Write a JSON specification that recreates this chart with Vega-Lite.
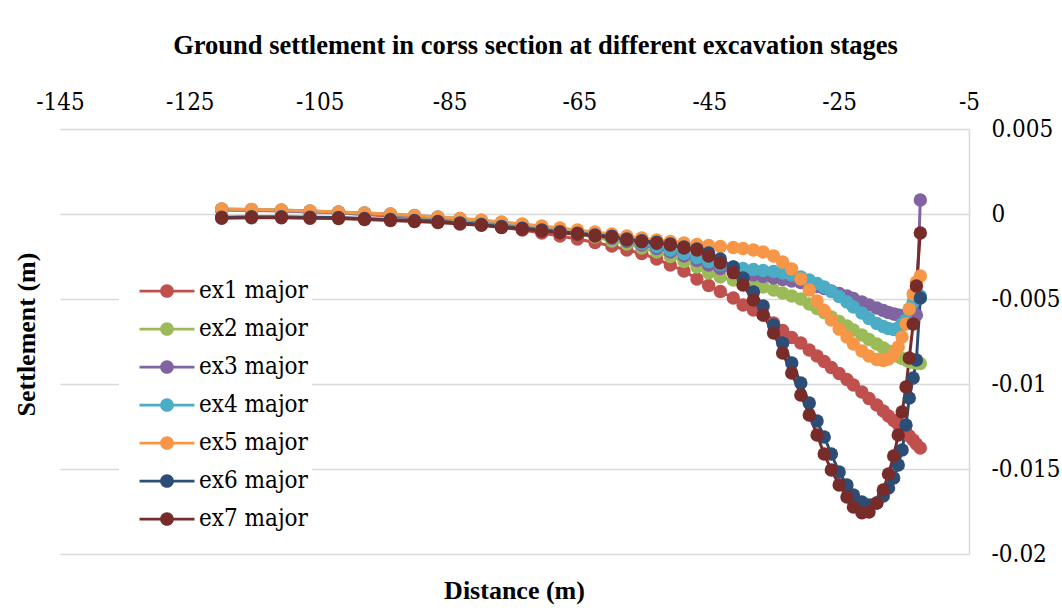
{
  "$schema": "https://vega.github.io/schema/vega-lite/v6.json",
  "width": 909,
  "height": 425,
  "autosize": {"type": "none"},
  "padding": {"left": 60, "top": 129, "right": 93, "bottom": 56},
  "background": "white",
  "title": {"text": "Ground settlement in corss section at different excavation stages", "font": "Liberation Serif", "fontSize": 26.5, "fontWeight": "bold", "color": "black", "anchor": "middle", "frame": "group", "dx": 21, "offset": 31},
  "data": {"values": [
    {"x": -120.1, "ex1 major": 0.00024, "ex2 major": 0.00026, "ex3 major": 0.00026, "ex4 major": 0.00029, "ex5 major": 0.00029, "ex6 major": -0.00019, "ex7 major": -0.00025},
    {"x": -115.5, "ex1 major": 0.00021, "ex2 major": 0.00024, "ex3 major": 0.00024, "ex4 major": 0.00026, "ex5 major": 0.00026, "ex6 major": -0.00016, "ex7 major": -0.00022},
    {"x": -110.9, "ex1 major": 0.00018, "ex2 major": 0.00021, "ex3 major": 0.00021, "ex4 major": 0.00024, "ex5 major": 0.00024, "ex6 major": -0.00016, "ex7 major": -0.00022},
    {"x": -106.5, "ex1 major": 0.00012, "ex2 major": 0.00015, "ex3 major": 0.00015, "ex4 major": 0.00018, "ex5 major": 0.00018, "ex6 major": -0.00019, "ex7 major": -0.00025},
    {"x": -102.1, "ex1 major": 0.00006, "ex2 major": 0.00009, "ex3 major": 0.00010, "ex4 major": 0.00012, "ex5 major": 0.00012, "ex6 major": -0.00021, "ex7 major": -0.00026},
    {"x": -98.1, "ex1 major": -0.00003, "ex2 major": 0.00003, "ex3 major": 0.00004, "ex4 major": 0.00006, "ex5 major": 0.00006, "ex6 major": -0.00026, "ex7 major": -0.00032},
    {"x": -94.1, "ex1 major": -0.00012, "ex2 major": -0.00006, "ex3 major": -0.00003, "ex4 major": 0.0, "ex5 major": 0.0, "ex6 major": -0.00032, "ex7 major": -0.00038},
    {"x": -90.4, "ex1 major": -0.00024, "ex2 major": -0.00015, "ex3 major": -0.00012, "ex4 major": -0.00009, "ex5 major": -0.00009, "ex6 major": -0.00038, "ex7 major": -0.00044},
    {"x": -86.8, "ex1 major": -0.00035, "ex2 major": -0.00024, "ex3 major": -0.00021, "ex4 major": -0.00018, "ex5 major": -0.00018, "ex6 major": -0.00044, "ex7 major": -0.00050},
    {"x": -83.4, "ex1 major": -0.00047, "ex2 major": -0.00035, "ex3 major": -0.00029, "ex4 major": -0.00026, "ex5 major": -0.00026, "ex6 major": -0.00053, "ex7 major": -0.00059},
    {"x": -80.1, "ex1 major": -0.00062, "ex2 major": -0.00047, "ex3 major": -0.00041, "ex4 major": -0.00038, "ex5 major": -0.00035, "ex6 major": -0.00061, "ex7 major": -0.00066},
    {"x": -77.0, "ex1 major": -0.00076, "ex2 major": -0.00059, "ex3 major": -0.00053, "ex4 major": -0.00050, "ex5 major": -0.00047, "ex6 major": -0.00074, "ex7 major": -0.00079},
    {"x": -73.8, "ex1 major": -0.00094, "ex2 major": -0.00074, "ex3 major": -0.00065, "ex4 major": -0.00062, "ex5 major": -0.00059, "ex6 major": -0.00084, "ex7 major": -0.00090},
    {"x": -70.8, "ex1 major": -0.00112, "ex2 major": -0.00088, "ex3 major": -0.00079, "ex4 major": -0.00076, "ex5 major": -0.00071, "ex6 major": -0.00094, "ex7 major": -0.00100},
    {"x": -68.0, "ex1 major": -0.00129, "ex2 major": -0.00103, "ex3 major": -0.00094, "ex4 major": -0.00091, "ex5 major": -0.00082, "ex6 major": -0.00104, "ex7 major": -0.00110},
    {"x": -65.3, "ex1 major": -0.00147, "ex2 major": -0.00118, "ex3 major": -0.00109, "ex4 major": -0.00106, "ex5 major": -0.00094, "ex6 major": -0.00113, "ex7 major": -0.00119},
    {"x": -62.6, "ex1 major": -0.00168, "ex2 major": -0.00135, "ex3 major": -0.00124, "ex4 major": -0.00121, "ex5 major": -0.00106, "ex6 major": -0.00124, "ex7 major": -0.00129},
    {"x": -60.0, "ex1 major": -0.00188, "ex2 major": -0.00159, "ex3 major": -0.00144, "ex4 major": -0.00138, "ex5 major": -0.00118, "ex6 major": -0.00131, "ex7 major": -0.00137},
    {"x": -57.7, "ex1 major": -0.00212, "ex2 major": -0.00176, "ex3 major": -0.00162, "ex4 major": -0.00156, "ex5 major": -0.00129, "ex6 major": -0.00147, "ex7 major": -0.00153},
    {"x": -55.4, "ex1 major": -0.00232, "ex2 major": -0.00200, "ex3 major": -0.00182, "ex4 major": -0.00174, "ex5 major": -0.00141, "ex6 major": -0.00157, "ex7 major": -0.00163},
    {"x": -53.1, "ex1 major": -0.00265, "ex2 major": -0.00224, "ex3 major": -0.00203, "ex4 major": -0.00191, "ex5 major": -0.00153, "ex6 major": -0.00166, "ex7 major": -0.00172},
    {"x": -51.0, "ex1 major": -0.00300, "ex2 major": -0.00250, "ex3 major": -0.00224, "ex4 major": -0.00212, "ex5 major": -0.00162, "ex6 major": -0.00176, "ex7 major": -0.00182},
    {"x": -48.9, "ex1 major": -0.00335, "ex2 major": -0.00279, "ex3 major": -0.00247, "ex4 major": -0.00232, "ex5 major": -0.00171, "ex6 major": -0.00194, "ex7 major": -0.00200},
    {"x": -46.9, "ex1 major": -0.00382, "ex2 major": -0.00312, "ex3 major": -0.00274, "ex4 major": -0.00256, "ex5 major": -0.00179, "ex6 major": -0.00206, "ex7 major": -0.00212},
    {"x": -45.1, "ex1 major": -0.00421, "ex2 major": -0.00347, "ex3 major": -0.00300, "ex4 major": -0.00279, "ex5 major": -0.00185, "ex6 major": -0.00229, "ex7 major": -0.00247},
    {"x": -43.3, "ex1 major": -0.00456, "ex2 major": -0.00371, "ex3 major": -0.00321, "ex4 major": -0.00297, "ex5 major": -0.00191, "ex6 major": -0.00265, "ex7 major": -0.00288},
    {"x": -41.3, "ex1 major": -0.00494, "ex2 major": -0.00388, "ex3 major": -0.00338, "ex4 major": -0.00312, "ex5 major": -0.00197, "ex6 major": -0.00312, "ex7 major": -0.00345},
    {"x": -39.8, "ex1 major": -0.00535, "ex2 major": -0.00403, "ex3 major": -0.00350, "ex4 major": -0.00321, "ex5 major": -0.00203, "ex6 major": -0.00376, "ex7 major": -0.00418},
    {"x": -38.2, "ex1 major": -0.00565, "ex2 major": -0.00415, "ex3 major": -0.00359, "ex4 major": -0.00326, "ex5 major": -0.00212, "ex6 major": -0.00459, "ex7 major": -0.00506},
    {"x": -36.7, "ex1 major": -0.00594, "ex2 major": -0.00429, "ex3 major": -0.00368, "ex4 major": -0.00332, "ex5 major": -0.00224, "ex6 major": -0.00541, "ex7 major": -0.00594},
    {"x": -35.1, "ex1 major": -0.00641, "ex2 major": -0.00447, "ex3 major": -0.00376, "ex4 major": -0.00338, "ex5 major": -0.00247, "ex6 major": -0.00653, "ex7 major": -0.00700},
    {"x": -33.7, "ex1 major": -0.00685, "ex2 major": -0.00465, "ex3 major": -0.00385, "ex4 major": -0.00347, "ex5 major": -0.00282, "ex6 major": -0.00759, "ex7 major": -0.00818},
    {"x": -32.3, "ex1 major": -0.00726, "ex2 major": -0.00482, "ex3 major": -0.00394, "ex4 major": -0.00359, "ex5 major": -0.00324, "ex6 major": -0.00876, "ex7 major": -0.00935},
    {"x": -30.9, "ex1 major": -0.00759, "ex2 major": -0.00500, "ex3 major": -0.00403, "ex4 major": -0.00371, "ex5 major": -0.00382, "ex6 major": -0.00994, "ex7 major": -0.01065},
    {"x": -29.6, "ex1 major": -0.00800, "ex2 major": -0.00529, "ex3 major": -0.00415, "ex4 major": -0.00388, "ex5 major": -0.00447, "ex6 major": -0.01112, "ex7 major": -0.01182},
    {"x": -28.4, "ex1 major": -0.00835, "ex2 major": -0.00556, "ex3 major": -0.00426, "ex4 major": -0.00409, "ex5 major": -0.00512, "ex6 major": -0.01218, "ex7 major": -0.01300},
    {"x": -27.3, "ex1 major": -0.00868, "ex2 major": -0.00579, "ex3 major": -0.00438, "ex4 major": -0.00429, "ex5 major": -0.00568, "ex6 major": -0.01312, "ex7 major": -0.01412},
    {"x": -26.2, "ex1 major": -0.00903, "ex2 major": -0.00606, "ex3 major": -0.00453, "ex4 major": -0.00456, "ex5 major": -0.00624, "ex6 major": -0.01412, "ex7 major": -0.01506},
    {"x": -25.0, "ex1 major": -0.00938, "ex2 major": -0.00632, "ex3 major": -0.00468, "ex4 major": -0.00485, "ex5 major": -0.00676, "ex6 major": -0.01518, "ex7 major": -0.01594},
    {"x": -23.8, "ex1 major": -0.00974, "ex2 major": -0.00659, "ex3 major": -0.00482, "ex4 major": -0.00518, "ex5 major": -0.00724, "ex6 major": -0.01594, "ex7 major": -0.01665},
    {"x": -22.8, "ex1 major": -0.01006, "ex2 major": -0.00682, "ex3 major": -0.00497, "ex4 major": -0.00547, "ex5 major": -0.00765, "ex6 major": -0.01653, "ex7 major": -0.01724},
    {"x": -21.5, "ex1 major": -0.01047, "ex2 major": -0.00712, "ex3 major": -0.00518, "ex4 major": -0.00582, "ex5 major": -0.00806, "ex6 major": -0.01694, "ex7 major": -0.01757},
    {"x": -20.4, "ex1 major": -0.01085, "ex2 major": -0.00738, "ex3 major": -0.00535, "ex4 major": -0.00615, "ex5 major": -0.00835, "ex6 major": -0.01712, "ex7 major": -0.01753},
    {"x": -19.2, "ex1 major": -0.01124, "ex2 major": -0.00765, "ex3 major": -0.00553, "ex4 major": -0.00644, "ex5 major": -0.00856, "ex6 major": -0.01700, "ex7 major": -0.01700},
    {"x": -18.2, "ex1 major": -0.01159, "ex2 major": -0.00788, "ex3 major": -0.00568, "ex4 major": -0.00662, "ex5 major": -0.00862, "ex6 major": -0.01659, "ex7 major": -0.01624},
    {"x": -17.4, "ex1 major": -0.01188, "ex2 major": -0.00806, "ex3 major": -0.00579, "ex4 major": -0.00674, "ex5 major": -0.00853, "ex6 major": -0.01612, "ex7 major": -0.01529},
    {"x": -16.6, "ex1 major": -0.01215, "ex2 major": -0.00824, "ex3 major": -0.00588, "ex4 major": -0.00679, "ex5 major": -0.00826, "ex6 major": -0.01553, "ex7 major": -0.01424},
    {"x": -15.9, "ex1 major": -0.01238, "ex2 major": -0.00838, "ex3 major": -0.00594, "ex4 major": -0.00671, "ex5 major": -0.00782, "ex6 major": -0.01476, "ex7 major": -0.01300},
    {"x": -15.3, "ex1 major": -0.01262, "ex2 major": -0.00850, "ex3 major": -0.00599, "ex4 major": -0.00647, "ex5 major": -0.00724, "ex6 major": -0.01388, "ex7 major": -0.01165},
    {"x": -14.7, "ex1 major": -0.01285, "ex2 major": -0.00859, "ex3 major": -0.00602, "ex4 major": -0.00624, "ex5 major": -0.00647, "ex6 major": -0.01241, "ex7 major": -0.01018},
    {"x": -14.2, "ex1 major": -0.01306, "ex2 major": -0.00868, "ex3 major": -0.00603, "ex4 major": -0.00559, "ex5 major": -0.00559, "ex6 major": -0.01082, "ex7 major": -0.00847},
    {"x": -13.6, "ex1 major": -0.01329, "ex2 major": -0.00874, "ex3 major": -0.00603, "ex4 major": -0.00518, "ex5 major": -0.00471, "ex6 major": -0.00965, "ex7 major": -0.00647},
    {"x": -13.1, "ex1 major": -0.01353, "ex2 major": -0.00876, "ex3 major": -0.00594, "ex4 major": -0.00494, "ex5 major": -0.00400, "ex6 major": -0.00859, "ex7 major": -0.00424},
    {"x": -12.5, "ex1 major": -0.01376, "ex2 major": -0.00879, "ex3 major": 0.00082, "ex4 major": -0.00482, "ex5 major": -0.00365, "ex6 major": -0.00494, "ex7 major": -0.00112}
  ]},
  "transform": [
    {"fold": ["ex1 major", "ex2 major", "ex3 major", "ex4 major", "ex5 major", "ex6 major", "ex7 major"], "as": ["series", "y"]}
  ],
  "encoding": {
    "x": {
      "field": "x", "type": "quantitative",
      "scale": {"domain": [-145, -5], "nice": false, "zero": false},
      "axis": {
        "orient": "top",
        "values": [-145, -125, -105, -85, -65, -45, -25, -5],
        "labelExpr": "'' + datum.value",
        "grid": false, "ticks": false, "domain": false,
        "labelFont": "DejaVu Serif Condensed, DejaVu Serif", "labelFontSize": 24, "labelColor": "black",
        "labelPadding": 15, "labelOverlap": false, "labelFlush": false, "labelBound": false,
        "title": "Distance (m)",
        "titleFont": "Liberation Serif", "titleFontSize": 26, "titleFontWeight": "bold", "titleColor": "black",
        "titleX": 454, "titleY": 461, "titleAlign": "center", "titleBaseline": "middle"
      }
    },
    "y": {
      "field": "y", "type": "quantitative",
      "scale": {"domain": [-0.02, 0.005], "nice": false, "zero": false},
      "axis": {
        "orient": "right",
        "values": [0.005, 0, -0.005, -0.01, -0.015, -0.02],
        "labelExpr": "'' + datum.value",
        "grid": true, "gridColor": "#D9D9D9", "gridWidth": 1.5,
        "ticks": false, "domain": true, "domainColor": "#D9D9D9", "domainWidth": 1.5,
        "labelFont": "DejaVu Serif Condensed, DejaVu Serif", "labelFontSize": 24, "labelColor": "black",
        "labelPadding": 22, "labelBaseline": "middle", "labelAlign": "left",
        "title": "Settlement (m)",
        "titleFont": "Liberation Serif", "titleFontSize": 26, "titleFontWeight": "bold", "titleColor": "black",
        "titleAngle": 270, "titleX": -943, "titleY": 205, "titleAlign": "center", "titleBaseline": "middle"
      }
    },
    "color": {
      "field": "series", "type": "nominal",
      "scale": {"domain": ["ex1 major", "ex2 major", "ex3 major", "ex4 major", "ex5 major", "ex6 major", "ex7 major"], "range": ["#C0504D", "#9BBB59", "#8064A2", "#4BACC6", "#F79646", "#2C4D75", "#772C2A"]},
      "legend": {
        "orient": "none", "legendX": 59, "legendY": 144, "title": null,
        "symbolType": "M-2,-0.1H2V0.1H-2Z M0.5,0A0.5,0.5 0 1,1 -0.5,0A0.5,0.5 0 1,1 0.5,0Z",
        "symbolSize": 756, "symbolStrokeWidth": 0, "symbolOffset": 30, "symbolOpacity": 1,
        "labelFont": "DejaVu Serif Condensed, DejaVu Serif", "labelFontSize": 24, "labelColor": "black", "labelOffset": 18,
        "rowPadding": 12, "fillColor": "white", "padding": 4,
        "encode": {"symbols": {"update": {"fill": {"scale": "color", "field": "value"}, "stroke": {"value": "transparent"}, "opacity": {"value": 1}}}}
      }
    }
  },
  "layer": [
    {
      "mark": {"type": "line", "strokeWidth": 3, "strokeJoin": "round", "strokeCap": "round"}
    },
    {
      "mark": {"type": "circle", "size": 180, "opacity": 1},
      "encoding": {"order": {"field": "series"}}
    }
  ],
  "config": {"view": {"stroke": null}, "font": "Liberation Serif"}
}
